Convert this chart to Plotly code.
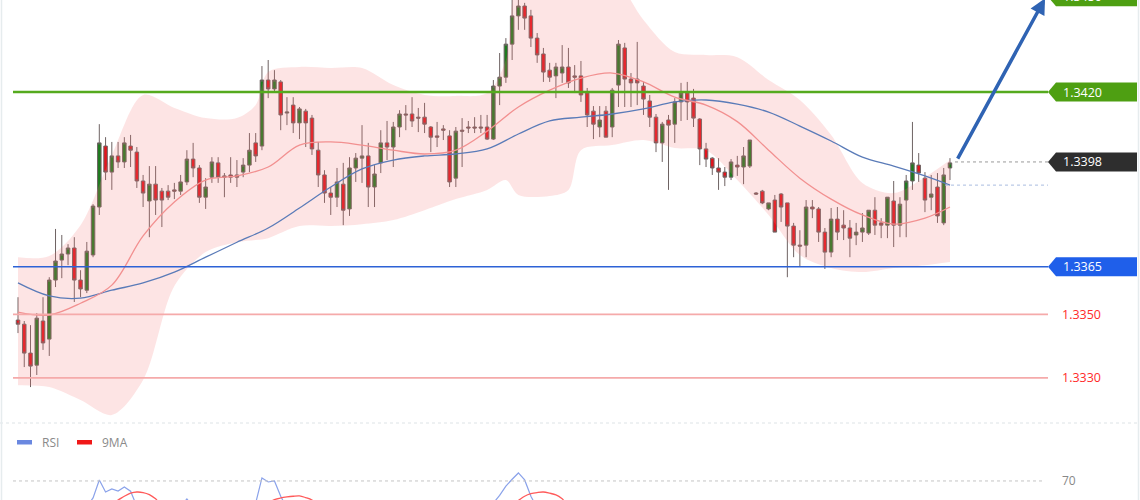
import plotly.graph_objects as go

# ---------------- data ----------------
candle_idx = list(range(1, 151))
opens = [1.33482,1.33469,1.33378,1.33340,1.33479,1.33422,1.33608,1.33671,1.33690,1.33709,
         1.33608,1.33576,1.33687,1.33838,1.34030,1.33948,1.33999,1.33980,1.34030,1.34011,
         1.33920,1.33857,1.33910,1.33888,1.33888,1.33892,1.33888,1.33917,1.33989,1.33961,
         1.33869,1.33932,1.33977,1.33936,1.33939,1.33939,1.33948,1.33970,1.34040,1.34030,
         1.34238,1.34210,1.34232,1.34134,1.34159,1.34103,1.34140,1.34118,1.34017,1.33939,
         1.33882,1.33869,1.33910,1.33832,1.33961,1.33992,1.33999,1.33901,1.33977,1.34040,
         1.34027,1.34090,1.34131,1.34131,1.34121,1.34121,1.34090,1.34062,1.34084,1.34062,
         1.33929,1.34080,1.34090,1.34090,1.34090,1.34090,1.34052,1.34219,1.34247,1.34351,
         1.34440,1.34471,1.34440,1.34370,1.34320,1.34269,1.34251,1.34260,1.34279,1.34251,
         1.34251,1.34197,1.34140,1.34090,1.34140,1.34090,1.34222,1.34339,1.34241,1.34241,
         1.34219,1.34172,1.34121,1.34040,1.34112,1.34099,1.34169,1.34197,1.34181,1.34115,
         1.34021,1.33992,1.33961,1.33948,1.33932,1.33970,1.33964,1.33967,1.33882,1.33888,
         1.33832,1.33860,1.33879,1.33851,1.33778,1.33718,1.33718,1.33838,1.33832,1.33759,
         1.33696,1.33800,1.33781,1.33772,1.33750,1.33759,1.33756,1.33828,1.33788,1.33781,
         1.33857,1.33781,1.33860,1.33920,1.33970,1.33929,1.33869,1.33901,1.33788,1.33961]
highs = [1.33554,1.33479,1.33466,1.33504,1.33554,1.33617,1.33769,1.33750,1.33721,1.33743,
         1.33639,1.33728,1.33847,1.34099,1.34058,1.34043,1.34043,1.34058,1.34065,1.34027,
         1.33939,1.33967,1.33967,1.33898,1.33907,1.33914,1.33939,1.34017,1.34040,1.33970,
         1.33929,1.33995,1.33995,1.33945,1.33995,1.33986,1.33992,1.34071,1.34071,1.34282,
         1.34301,1.34269,1.34238,1.34184,1.34184,1.34153,1.34147,1.34128,1.34043,1.33954,
         1.33901,1.33961,1.33977,1.33995,1.34008,1.34096,1.34040,1.33970,1.34080,1.34109,
         1.34106,1.34143,1.34159,1.34184,1.34150,1.34166,1.34093,1.34106,1.34096,1.34080,
         1.34090,1.34118,1.34109,1.34121,1.34128,1.34128,1.34238,1.34323,1.34370,1.34490,
         1.34490,1.34481,1.34459,1.34386,1.34339,1.34292,1.34292,1.34348,1.34339,1.34285,
         1.34298,1.34213,1.34156,1.34156,1.34156,1.34213,1.34364,1.34355,1.34260,1.34358,
         1.34232,1.34191,1.34131,1.34106,1.34128,1.34181,1.34229,1.34232,1.34210,1.34118,
         1.34040,1.33995,1.33992,1.33964,1.33989,1.33999,1.34027,1.34049,1.33885,1.33892,
         1.33851,1.33876,1.33882,1.33851,1.33788,1.33765,1.33860,1.33860,1.33838,1.33772,
         1.33835,1.33838,1.33828,1.33797,1.33788,1.33819,1.33828,1.33869,1.33803,1.33869,
         1.33920,1.33869,1.33939,1.34106,1.34008,1.33948,1.33939,1.33945,1.33961,1.33992]
lows = [1.33441,1.33334,1.33271,1.33309,1.33388,1.33369,1.33586,1.33614,1.33655,1.33539,
        1.33554,1.33567,1.33680,1.33813,1.33923,1.33892,1.33961,1.33961,1.33964,1.33898,
        1.33838,1.33743,1.33813,1.33775,1.33860,1.33863,1.33876,1.33907,1.33932,1.33851,
        1.33832,1.33914,1.33914,1.33869,1.33914,1.33901,1.33932,1.33948,1.33980,1.34017,
        1.34181,1.34200,1.34080,1.34096,1.34071,1.34052,1.34027,1.34002,1.33901,1.33851,
        1.33813,1.33838,1.33781,1.33810,1.33917,1.33914,1.33838,1.33838,1.33945,1.33986,
        1.33964,1.34058,1.34080,1.34090,1.34074,1.34071,1.34011,1.34027,1.34049,1.33901,
        1.33901,1.33964,1.34071,1.34071,1.34071,1.34049,1.34049,1.34159,1.34229,1.34301,
        1.34396,1.34396,1.34342,1.34292,1.34232,1.34232,1.34181,1.34229,1.34213,1.34197,
        1.34169,1.34090,1.34052,1.34058,1.34058,1.34058,1.34153,1.34153,1.34153,1.34159,
        1.34128,1.34090,1.34011,1.33980,1.33892,1.34040,1.34109,1.34112,1.34090,1.33970,
        1.33964,1.33939,1.33892,1.33904,1.33923,1.33936,1.33910,1.33961,1.33876,1.33847,
        1.33828,1.33759,1.33791,1.33617,1.33680,1.33649,1.33680,1.33803,1.33728,1.33643,
        1.33680,1.33734,1.33734,1.33680,1.33718,1.33728,1.33750,1.33750,1.33740,1.33740,
        1.33712,1.33743,1.33743,1.33892,1.33917,1.33822,1.33828,1.33788,1.33781,1.33923]
closes = [1.33469,1.33378,1.33337,1.33488,1.33410,1.33608,1.33668,1.33690,1.33709,1.33608,
          1.33580,1.33699,1.33841,1.34040,1.33948,1.33999,1.33980,1.34040,1.34017,1.33920,
          1.33882,1.33910,1.33860,1.33860,1.33869,1.33888,1.33917,1.33989,1.33961,1.33869,
          1.33901,1.33980,1.33932,1.33932,1.33932,1.33932,1.33970,1.34017,1.33999,1.34238,
          1.34210,1.34238,1.34128,1.34137,1.34103,1.34147,1.34103,1.34021,1.33939,1.33882,
          1.33869,1.33917,1.33828,1.33961,1.33992,1.33999,1.33901,1.33942,1.34040,1.34027,
          1.34090,1.34131,1.34128,1.34109,1.34118,1.34099,1.34058,1.34058,1.34080,1.33917,
          1.34077,1.34077,1.34087,1.34087,1.34087,1.34052,1.34219,1.34247,1.34351,1.34440,
          1.34471,1.34433,1.34370,1.34317,1.34263,1.34247,1.34279,1.34279,1.34229,1.34247,
          1.34191,1.34128,1.34099,1.34112,1.34058,1.34206,1.34351,1.34241,1.34229,1.34229,
          1.34178,1.34121,1.34040,1.34099,1.34096,1.34169,1.34197,1.34169,1.34118,1.34021,
          1.33989,1.33961,1.33948,1.33932,1.33980,1.33964,1.33999,1.34049,1.33879,1.33851,
          1.33851,1.33759,1.33838,1.33778,1.33718,1.33715,1.33838,1.33832,1.33759,1.33696,
          1.33800,1.33759,1.33772,1.33740,1.33759,1.33772,1.33828,1.33781,1.33781,1.33869,
          1.33781,1.33847,1.33920,1.33977,1.33945,1.33860,1.33879,1.33810,1.33939,1.33977]

# moving averages (sampled along the chart)
ma_idx = [1,6,11,16,21,26,31,36,41,46,51,56,61,66,71,76,81,86,91,96,101,106,111,116,121,126,131,136,141,146,150]
ma_slow = [1.33599,1.33558,1.33551,1.33576,1.33599,1.33633,1.33680,1.33727,1.33772,1.33835,
           1.33901,1.33958,1.33986,1.33999,1.34005,1.34021,1.34068,1.34109,1.34121,1.34131,
           1.34147,1.34169,1.34175,1.34162,1.34137,1.34093,1.34046,1.33995,1.33967,1.33936,1.33907]
ma_fast = [1.33507,1.33498,1.33535,1.33592,1.33747,1.33854,1.33923,1.33936,1.33964,1.34033,
           1.34043,1.34033,1.34017,1.34005,1.34017,1.34077,1.34153,1.34206,1.34244,1.34260,
           1.34232,1.34184,1.34159,1.34107,1.34017,1.33929,1.33863,1.33813,1.33784,1.33803,1.33838]

# Bollinger band envelope (sampled)
band_idx = [1,6,11,16,21,26,31,36,39,41,46,51,56,61,66,71,76,79,81,86,89,91,96,101,106,111,116,121,126,131,136,141,146,150]
band_upper = [1.33680,1.33684,1.33781,1.34002,1.34191,1.34150,1.34118,1.34118,1.34159,1.34263,
              1.34279,1.34276,1.34276,1.34222,1.34191,1.34188,1.34197,1.34301,1.34553,1.34600,
              1.34600,1.34600,1.34569,1.34427,1.34326,1.34317,1.34310,1.34238,1.34175,1.34065,
              1.33914,1.33882,1.33932,1.33986]
band_lower = [1.33277,1.33271,1.33230,1.33183,1.33293,1.33589,1.33696,1.33727,1.33734,1.33740,
              1.33778,1.33778,1.33784,1.33797,1.33828,1.33863,1.33892,1.33923,1.33876,1.33873,
              1.33892,1.34017,1.34033,1.34049,1.34024,1.34017,1.33923,1.33813,1.33687,1.33646,
              1.33633,1.33646,1.33655,1.33665]

# RSI panel (only the part above ~59 is visible)
rsi_idx = [1,12,13,14,15,16,17,18,19,20,27,28,29,38,39,40,41,42,43,44,76,77,78,79,80,81,82,83,84,150]
rsi_vals = [45,55,60,70.6,63.5,65.3,64.1,66.5,64,55,55,59.4,55,54,57,71.8,69.4,70,61,54,54,57,61.5,67,71,74.7,70.6,61,54,48]
ma9_idx = [1,15,16,17,18,19,20,21,22,23,24,40,41,42,43,44,45,46,47,48,49,79,80,81,82,83,84,85,86,87,88,89,150]
ma9_vals = [48,54,57,58.8,61,62.8,63.5,63.2,62,59.5,56,54,57,59,60,60.6,61,61.2,60.2,58.8,56,54,56,58.5,61,62.5,63.2,63.5,62.8,61.8,59.5,56,50]

# horizontal levels and labels
level_green = 1.3420
level_blue = 1.3365
levels_red = [1.3350, 1.3330]
level_last = 1.3398
level_target = 1.3450
arrow_from = (151.1, 1.33986)
arrow_to = (165.2, 1.34495)

# ---------------- layout geometry ----------------
W, H = 1140, 500
X_LO, X_HI = -1.878, 180.38
Y_TOP, Y_BOT = 1.34490, 1.33161
PX = (Y_TOP - Y_BOT) / 422.0   # price per pixel in main panel
main_dom = [1 - 422 / H, 1]
rsi_dom = [0, 1 - 423 / H]


def px(x):
    return x / W


def py(y):
    return 1 - y / H


def price_to_paper(p):
    return main_dom[0] + (p - Y_BOT) / (Y_TOP - Y_BOT) * (main_dom[1] - main_dom[0])


fig = go.Figure()

fig.add_trace(go.Scatter(x=band_idx, y=band_lower, mode='lines',
                         line=dict(width=0, shape='spline', smoothing=0.9),
                         hoverinfo='skip', showlegend=False))
fig.add_trace(go.Scatter(x=band_idx, y=band_upper, mode='lines',
                         line=dict(width=0, shape='spline', smoothing=0.9),
                         fill='tonexty', fillcolor='rgba(245,120,120,0.20)',
                         hoverinfo='skip', showlegend=False))
fig.add_trace(go.Scatter(x=ma_idx, y=ma_slow, mode='lines',
                         line=dict(color='#5a7bb8', width=1.3, shape='spline'),
                         showlegend=False))
fig.add_trace(go.Scatter(x=ma_idx, y=ma_fast, mode='lines',
                         line=dict(color='#f29090', width=1.3, shape='spline'),
                         showlegend=False))
fig.add_trace(go.Candlestick(x=candle_idx, open=opens, high=highs, low=lows, close=closes,
                             increasing=dict(line=dict(color='#6e6363', width=1), fillcolor='#1f7a1f'),
                             decreasing=dict(line=dict(color='#6e6363', width=1), fillcolor='#e3141c'),
                             whiskerwidth=0, showlegend=False))

fig.add_trace(go.Scatter(x=rsi_idx, y=rsi_vals, xaxis='x2', yaxis='y2', mode='lines',
                         line=dict(color='#8aa2ea', width=1.2), showlegend=False))
fig.add_trace(go.Scatter(x=ma9_idx, y=ma9_vals, xaxis='x2', yaxis='y2', mode='lines',
                         line=dict(color='#ff5a5a', width=1.3, shape='spline'), showlegend=False))

shapes = []
annotations = []
LX0, LX1 = px(13), px(1048)
shapes.append(dict(type='line', xref='paper', yref='y', x0=LX0, x1=LX1, y0=level_green, y1=level_green,
                   line=dict(color='#55aa1e', width=2.5), layer='above'))
shapes.append(dict(type='line', xref='paper', yref='y', x0=LX0, x1=LX1, y0=level_blue, y1=level_blue,
                   line=dict(color='#2d62d6', width=1.4), layer='above'))
for lv in levels_red:
    shapes.append(dict(type='line', xref='paper', yref='y', x0=LX0, x1=LX1, y0=lv, y1=lv,
                       line=dict(color='#f5aaaa', width=1.6), layer='above'))
    annotations.append(dict(xref='paper', yref='paper', x=px(1060), y=price_to_paper(lv),
                            text=f'{lv:.4f}', showarrow=False, xanchor='left', yanchor='middle',
                            font=dict(family='Open Sans', size=12.5, color='#ff2a2a')))
# dotted guide lines
shapes.append(dict(type='line', xref='paper', yref='y', x0=px(955), x1=LX1, y0=level_last, y1=level_last,
                   line=dict(color='#9a9a9a', width=1, dash='dot'), layer='above'))
shapes.append(dict(type='line', xref='paper', yref='y', x0=px(945), x1=LX1, y0=ma_slow[-1], y1=ma_slow[-1],
                   line=dict(color='#a9bde0', width=1, dash='dot'), layer='above'))


# price label boxes
def label_box(level, color):
    h = 9.5 * PX
    xa, xb, xc = px(1048), px(1056), px(1137)
    path = (f'M {xa},{level} L {xb},{level + h} L {xc},{level + h} '
            f'L {xc},{level - h} L {xb},{level - h} Z')
    shapes.append(dict(type='path', xref='paper', yref='y', path=path,
                       fillcolor=color, line=dict(width=0), layer='above'))
    annotations.append(dict(xref='paper', yref='paper', x=px(1061), y=price_to_paper(level),
                            text=f'{level:.4f}', showarrow=False, xanchor='left', yanchor='middle',
                            font=dict(family='Open Sans', size=12.5, color='white')))


label_box(level_target, '#4e9f12')
label_box(level_green, '#4e9f12')
label_box(level_last, '#2e2e2e')
label_box(level_blue, '#1f5fea')

# arrow
annotations.append(dict(x=arrow_to[0], y=arrow_to[1], ax=arrow_from[0], ay=arrow_from[1],
                        xref='x', yref='y', axref='x', ayref='y', text='', showarrow=True,
                        arrowhead=2, arrowsize=0.9, arrowwidth=3.5, arrowcolor='#2f63b3'))

# panel separator and borders
shapes.append(dict(type='line', xref='paper', yref='paper', x0=0, x1=1, y0=py(423), y1=py(423),
                   line=dict(color='#dde3e6', width=1, dash='dot')))
shapes.append(dict(type='line', xref='paper', yref='paper', x0=px(1.5), x1=px(1.5), y0=0, y1=1,
                   line=dict(color='#e6ecee', width=1.5)))
shapes.append(dict(type='line', xref='paper', yref='paper', x0=px(1138.5), x1=px(1138.5), y0=0, y1=1,
                   line=dict(color='#e6ecee', width=1.5)))

# RSI 70 level
shapes.append(dict(type='line', xref='paper', yref='y2', x0=LX0, x1=px(1044), y0=70, y1=70,
                   line=dict(color='#c4c4c4', width=1, dash='dot')))
annotations.append(dict(xref='paper', yref='y2', x=px(1060), y=70, text='70', showarrow=False,
                        xanchor='left', yanchor='middle',
                        font=dict(family='Open Sans', size=12, color='#888888')))

# RSI legend
for x0, color, name in [(17, '#6a88e0', 'RSI'), (77, '#f01818', '9MA')]:
    shapes.append(dict(type='rect', xref='paper', yref='paper', x0=px(x0), x1=px(x0 + 15),
                       y0=py(444.5), y1=py(440), fillcolor=color, line=dict(width=0)))
    annotations.append(dict(xref='paper', yref='paper', x=px(x0 + 23), y=py(442), text=name,
                            showarrow=False, xanchor='left', yanchor='middle',
                            font=dict(family='Open Sans', size=12, color='#8a8a8a')))

fig.update_layout(
    width=W, height=H,
    margin=dict(l=0, r=0, t=0, b=0),
    paper_bgcolor='white', plot_bgcolor='white',
    boxgap=0.2,
    showlegend=False,
    xaxis=dict(domain=[0, 1], range=[X_LO, X_HI], visible=False, anchor='y',
               rangeslider=dict(visible=False), fixedrange=True),
    yaxis=dict(domain=main_dom, range=[Y_BOT, Y_TOP], visible=False, fixedrange=True),
    xaxis2=dict(domain=[0, 1], range=[X_LO, X_HI], visible=False, anchor='y2'),
    yaxis2=dict(domain=rsi_dom, range=[58.8, 104.1], visible=False),
    shapes=shapes,
    annotations=annotations,
)

fig.write_html('out.html')
